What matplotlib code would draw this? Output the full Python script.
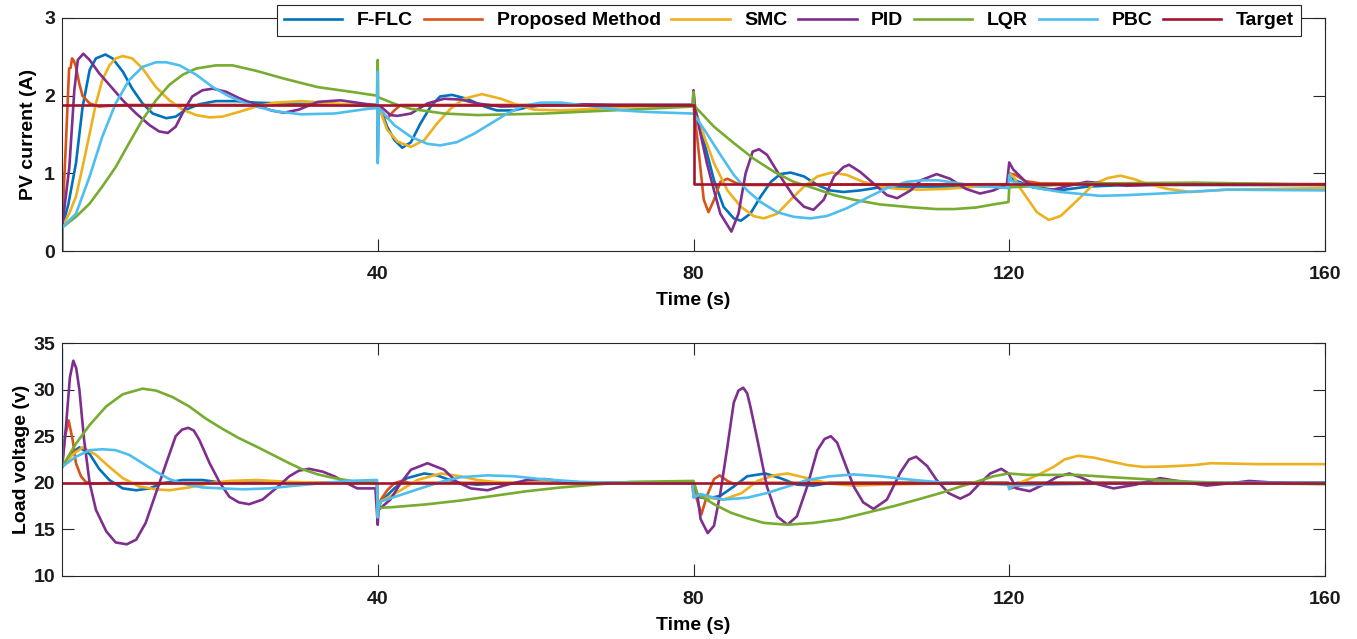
import numpy as np
import matplotlib
matplotlib.use("Agg")
import matplotlib.pyplot as plt

# ---------------- data: (time s, value) ----------------
names = ["F-FLC", "Proposed Method", "SMC", "PID", "LQR", "PBC", "Target"]
colors = ["#0072BD", "#D95319", "#EDB120", "#7E2F8E", "#77AC30", "#4DBEEE", "#A2142F"]

# PV current (A)
pv_fflc = [(0, 0.02), (0, 0.30), (0.8, 0.6), (1.77, 1.13), (2.6, 1.85), (3.5, 2.33), (4.3, 2.48),
           (5.5, 2.53), (6.4, 2.48), (7.7, 2.31), (8.9, 2.09), (10.2, 1.90), (11.5, 1.77), (13.2, 1.71),
           (14.4, 1.73), (15.7, 1.82), (17.4, 1.89), (19.5, 1.93), (22, 1.93), (24.6, 1.91), (28, 1.90),
           (32, 1.89), (36, 1.88), (39.9, 1.86), (40, 1.84), (40, 1.2), (40.1, 1.84), (40.4, 1.81),
           (41.2, 1.6), (42.1, 1.43), (43.1, 1.33), (44.2, 1.40), (45.4, 1.64), (46.7, 1.86), (47.9, 1.99),
           (49.4, 2.01), (51.3, 1.96), (53.5, 1.86), (55.1, 1.81), (57.2, 1.81), (59.4, 1.86), (61.5, 1.88),
           (79.9, 1.88), (80, 1.88), (80.5, 1.73), (81.7, 1.26), (82.6, 0.91), (83.8, 0.57), (85.1, 0.42),
           (86, 0.39), (87.2, 0.48), (88.5, 0.70), (89.8, 0.89), (91, 0.99), (92.3, 1.01), (94, 0.96),
           (95.7, 0.85), (97.3, 0.78), (99, 0.76), (101.1, 0.78), (103.6, 0.82), (108, 0.83), (112, 0.83),
           (119.9, 0.84), (120, 0.95), (121, 0.9), (123, 0.82), (125, 0.79), (127, 0.79), (130, 0.83),
           (135, 0.85), (160, 0.85)]
pv_prop = [(0, 0.02), (0, 0.30), (0.5, 1.4), (0.9, 2.35), (1.1, 2.36), (1.27, 2.48), (1.5, 2.45),
           (1.77, 2.37), (2.2, 2.15), (2.6, 2.0), (3.5, 1.9), (4.7, 1.86), (6, 1.87), (8, 1.88), (39.9, 1.88),
           (40, 1.85), (40.4, 1.81), (41.2, 1.71), (42.1, 1.81), (42.9, 1.88), (79.9, 1.88), (80, 1.88),
           (80.5, 1.43), (81.3, 0.66), (81.9, 0.50), (82.6, 0.66), (83.4, 0.89), (84.3, 0.93), (85.5, 0.87),
           (86.8, 0.85), (119.9, 0.86), (120, 1.0), (120.8, 0.98), (122, 0.9), (124, 0.87), (160, 0.86)]
pv_smc = [(0, 0.02), (0, 0.30), (0.9, 0.48), (1.77, 0.70), (2.6, 1.08), (3.5, 1.51), (4.3, 1.90),
          (5.1, 2.2), (6, 2.39), (6.8, 2.48), (7.7, 2.51), (8.9, 2.48), (10.2, 2.35), (11.9, 2.11),
          (13.6, 1.94), (15.3, 1.82), (17, 1.75), (18.7, 1.72), (20.3, 1.73), (22.4, 1.79), (24.6, 1.86),
          (27, 1.91), (30.3, 1.93), (34.5, 1.90), (39.9, 1.87), (40, 1.85), (40.4, 1.78), (41.2, 1.56),
          (42.5, 1.41), (44.2, 1.34), (45.9, 1.43), (47.5, 1.64), (49.2, 1.83), (50.9, 1.96), (53.2, 2.02),
          (55.6, 1.96), (57.7, 1.88), (59.8, 1.82), (63.2, 1.81), (67.4, 1.83), (72, 1.86), (79.9, 1.87),
          (80, 1.87), (80.9, 1.60), (82.6, 1.13), (84.3, 0.78), (86, 0.57), (87.6, 0.45), (88.9, 0.42),
          (90.6, 0.48), (92.3, 0.66), (94, 0.83), (95.7, 0.96), (97.5, 1.01), (99.4, 0.98), (101.5, 0.89),
          (103.6, 0.83), (105.8, 0.80), (108.8, 0.79), (112, 0.80), (116, 0.83), (119.9, 0.84), (120, 1.0),
          (120.6, 0.95), (121.3, 0.82), (122.2, 0.69), (123.5, 0.5), (125, 0.40), (126.5, 0.45),
          (128.6, 0.65), (130.7, 0.86), (132.5, 0.94), (134.1, 0.97), (136, 0.92), (137, 0.88), (140, 0.8),
          (143, 0.76), (147.6, 0.79), (160, 0.81)]
pv_pid = [(0, 0.02), (0, 0.30), (0.93, 1.08), (1.56, 2.07), (2, 2.46), (2.7, 2.54), (3.5, 2.46), (4.7, 2.29),
          (6, 2.14), (7.7, 1.94), (9.4, 1.77), (11.1, 1.62), (12.3, 1.54), (13.4, 1.52), (14.4, 1.6),
          (15.5, 1.82), (16.5, 1.99), (17.8, 2.07), (19.1, 2.09), (20.8, 2.05), (22.4, 1.97), (24.6, 1.88),
          (26.5, 1.81), (28.1, 1.78), (30, 1.82), (32.4, 1.92), (35.3, 1.94), (38.7, 1.89), (39.9, 1.88),
          (40, 1.87), (40.4, 1.86), (41.6, 1.75), (42.5, 1.74), (44.2, 1.77), (46.3, 1.90), (48.4, 1.96),
          (50.5, 1.95), (52.6, 1.90), (55.6, 1.86), (60, 1.87), (65.7, 1.89), (70, 1.88), (79.9, 1.88),
          (80, 2.07), (80.2, 1.85), (80.5, 1.69), (81.7, 1.13), (82.6, 0.78), (83.4, 0.48), (84.8, 0.25),
          (85.7, 0.48), (86.6, 1.0), (87.5, 1.28), (88.3, 1.31), (89.3, 1.24), (91, 0.96), (92.7, 0.70),
          (94, 0.57), (95.2, 0.53), (96.5, 0.66), (97.8, 0.96), (99, 1.08), (99.7, 1.11), (101.1, 1.02),
          (102.8, 0.87), (104.5, 0.72), (105.8, 0.68), (107.5, 0.78), (108.8, 0.91), (110.8, 0.99),
          (112.5, 0.93), (114.5, 0.8), (116.3, 0.74), (118, 0.78), (119.7, 0.86), (120, 1.14), (120.5, 1.05),
          (122.2, 0.88), (124, 0.81), (125.6, 0.79), (127.5, 0.84), (129.8, 0.89), (132, 0.87),
          (134.9, 0.84), (140, 0.86), (160, 0.86)]
pv_lqr = [(0, 0.02), (0, 0.30), (1.77, 0.44), (3.5, 0.61), (5.1, 0.83), (6.8, 1.08), (8.5, 1.39),
          (10.2, 1.69), (11.9, 1.94), (13.6, 2.14), (15.3, 2.27), (17, 2.35), (19.5, 2.39), (21.6, 2.39),
          (24.6, 2.32), (28.1, 2.22), (32.4, 2.11), (36.6, 2.05), (39.9, 2.0), (40, 2.46), (40.05, 1.98),
          (42, 1.90), (44.2, 1.83), (48.4, 1.77), (52.6, 1.75), (56.9, 1.76), (61.1, 1.77), (67.4, 1.80),
          (74, 1.83), (79.9, 1.86), (80, 2.05), (80.1, 1.87), (82.6, 1.60), (85.1, 1.39), (87.6, 1.19),
          (90.2, 1.02), (92.7, 0.89), (95.2, 0.81), (97.8, 0.72), (100.3, 0.66), (103.6, 0.60),
          (107.9, 0.56), (110.8, 0.54), (113, 0.54), (115.8, 0.56), (118, 0.6), (119.9, 0.63), (120, 0.82),
          (122.2, 0.83), (126, 0.85), (130.7, 0.87), (143.4, 0.88), (150, 0.87), (160, 0.85)]
pv_pbc = [(0, 0.04), (0, 0.30), (1.77, 0.48), (3.5, 0.96), (5.1, 1.47), (6.8, 1.90), (8.5, 2.2),
          (10.2, 2.37), (11.9, 2.43), (13.2, 2.43), (14.9, 2.39), (17, 2.27), (19.1, 2.11), (21.2, 1.99),
          (23.3, 1.90), (25, 1.85), (27, 1.80), (30.3, 1.76), (34.5, 1.77), (38.7, 1.83), (39.9, 1.84),
          (40, 2.31), (40, 1.13), (40.1, 1.84), (40.4, 1.81), (42.1, 1.62), (44.2, 1.47), (46.3, 1.38),
          (47.9, 1.36), (50, 1.40), (52.2, 1.51), (54.3, 1.64), (56.4, 1.77), (58.5, 1.87), (60.6, 1.91),
          (63.2, 1.91), (67.4, 1.86), (71, 1.81), (74.1, 1.79), (79.9, 1.77), (80, 1.77), (81.7, 1.51),
          (83.4, 1.24), (85.1, 0.98), (86.8, 0.78), (88.5, 0.63), (90.6, 0.50), (92.7, 0.44), (94.8, 0.42),
          (96.9, 0.45), (99.4, 0.55), (101.9, 0.68), (104.5, 0.81), (107, 0.89), (109, 0.91), (111, 0.91),
          (113, 0.88), (115.8, 0.84), (119.9, 0.81), (120, 0.98), (120.3, 0.9), (123, 0.82), (126.5, 0.76),
          (131.5, 0.71), (135, 0.72), (139.1, 0.74), (147.6, 0.79), (160, 0.78)]
pv_target = [(0, 1.88), (80, 1.88), (80, 0.86), (160, 0.86)]

# Load voltage (v)
lv_fflc = [(0, 21.7), (1.35, 23.3), (2.2, 23.8), (3.5, 23.1), (4.7, 21.5), (6, 20.3), (7.7, 19.4),
           (9.4, 19.2), (11.1, 19.4), (12.7, 19.96), (15.3, 20.3), (17.8, 20.3), (20.3, 20.0), (25, 20.0),
           (39.9, 20.0), (40, 17.0), (40.4, 18.0), (42.1, 19.4), (43.7, 20.5), (45.9, 21.0), (47.5, 20.8),
           (48.8, 20.4), (50.5, 19.96), (52.6, 19.8), (55, 19.9), (60, 20.0), (79.9, 20), (80, 18.6),
           (81.7, 18.3), (83.4, 18.6), (85.1, 19.6), (86.8, 20.7), (89.1, 21.0), (91, 20.5), (93.1, 19.8),
           (95.2, 19.7), (97.3, 20), (119.9, 20), (120, 19.6), (121, 20), (160, 20)]
lv_prop = [(0, 21.7), (0.4, 25), (0.84, 26.7), (1.35, 24.6), (1.77, 22.1), (2.4, 20.7), (3, 20.1),
           (3.9, 19.9), (5.6, 19.96), (39.9, 20.0), (40, 17.0), (40.4, 18.2), (41.2, 19.2), (42.1, 19.96),
           (43, 20.2), (44, 20.0), (79.9, 20), (80, 18.6), (80.3, 18.6), (81, 16.6), (81.7, 18.6),
           (82.6, 20.4), (83.3, 20.8), (84.3, 20.2), (85.1, 19.9), (86, 20), (119.9, 20), (120, 19.4),
           (120.8, 19.5), (122, 20), (160, 20)]
lv_smc = [(0, 21.7), (1.3, 23.0), (2.6, 23.8), (4.3, 23.0), (6, 21.7), (7.7, 20.5), (9.8, 19.6),
          (11.9, 19.3), (13.6, 19.2), (16.1, 19.5), (18.7, 19.96), (21.2, 20.2), (24.6, 20.3), (28.8, 20.1),
          (33, 20.0), (39.9, 20.0), (40, 17.3), (40.4, 18.0), (42.9, 19.2), (45, 20.3), (48, 21.0),
          (50.5, 20.7), (52.6, 20.3), (54.7, 20.1), (57, 20.0), (79.9, 20), (80, 18.6), (80.9, 18.6),
          (82.6, 18.3), (83.8, 18.2), (86.1, 18.9), (88.1, 20.2), (90.2, 20.8), (91.9, 21.0), (94.4, 20.5),
          (97.3, 19.9), (100.3, 19.7), (103.6, 19.8), (110, 19.9), (119.9, 19.9), (120, 19.6), (121, 19.9),
          (122.2, 20.3), (124, 21.0), (125.6, 21.7), (127, 22.5), (128.7, 22.9), (130.7, 22.7),
          (132.8, 22.3), (135, 21.9), (137, 21.7), (140, 21.75), (143.4, 21.9), (145.5, 22.1),
          (151.8, 22.0), (160, 22.0)]
lv_pid = [(0, 21.7), (0.5, 26), (1, 31.3), (1.43, 33.1), (1.8, 32.3), (2.2, 30.0), (2.8, 24.6), (3.5, 20.0),
          (4.3, 17.1), (5.6, 14.8), (6.8, 13.6), (8.2, 13.4), (9.4, 13.9), (10.6, 15.7), (11.9, 18.9),
          (13.2, 22.1), (14.4, 25.0), (15.2, 25.7), (16, 25.9), (16.7, 25.6), (17.4, 24.6), (18.7, 22.1),
          (20, 20.0), (21.2, 18.5), (22.4, 17.9), (23.7, 17.7), (25.4, 18.2), (27.1, 19.4), (28.8, 20.7),
          (30, 21.3), (31.3, 21.5), (33, 21.2), (34.5, 20.7), (36, 20.0), (37.4, 19.4), (39.7, 19.4),
          (40, 15.5), (40.1, 17.1), (41.6, 18.2), (42.9, 19.96), (44.2, 21.4), (46.3, 22.1), (48.4, 21.4),
          (50, 20.1), (51.8, 19.4), (53.9, 19.2), (56.4, 19.8), (58.9, 20.3), (61.1, 20.4), (64, 20.1),
          (67, 20.0), (79.9, 20.0), (80, 20.0), (80.5, 18.6), (80.9, 16.1), (81.8, 14.6), (82.6, 15.4),
          (83.4, 18.9), (84.3, 23.9), (85.1, 28.6), (85.7, 29.9), (86.3, 30.2), (86.8, 29.6), (87.2, 28.2),
          (88.1, 24.6), (89.3, 19.6), (90.6, 16.4), (91.9, 15.5), (93.1, 16.4), (94.4, 19.6), (95.7, 23.5),
          (96.6, 24.7), (97.4, 25.0), (98.2, 24.3), (99, 22.5), (100.3, 19.6), (101.5, 17.9), (102.8, 17.2),
          (104.5, 18.2), (106.2, 21.1), (107.3, 22.5), (108.2, 22.8), (109.6, 21.8), (110.8, 20.3),
          (112.3, 18.9), (113.8, 18.3), (115, 18.8), (116.3, 19.96), (117.6, 21.0), (119, 21.5),
          (119.9, 21.0), (120.9, 19.4), (122.6, 19.1), (124.7, 19.96), (126, 20.6), (127.6, 21.0),
          (129, 20.6), (130.7, 19.96), (133.2, 19.4), (136, 19.8), (139.1, 20.5), (142, 20.1), (145, 19.7),
          (148, 19.95), (150.4, 20.2), (153, 20.05), (156, 20.0), (160, 20.0)]
lv_lqr = [(0, 21.7), (1.77, 24.2), (3.5, 26.2), (5.6, 28.2), (7.7, 29.5), (10.2, 30.1), (11.9, 29.9),
          (14, 29.2), (16.1, 28.2), (18.2, 26.9), (20.3, 25.8), (22.4, 24.8), (24.6, 23.9), (26.7, 23.0),
          (28.8, 22.1), (30.3, 21.5), (32.4, 20.9), (34.5, 20.5), (37, 20.15), (39.9, 19.96), (40, 16.3),
          (40.05, 17.3), (42.1, 17.4), (46.3, 17.7), (50.5, 18.1), (54.7, 18.6), (58.9, 19.1), (63.2, 19.5),
          (67.4, 19.8), (72, 20.1), (79.9, 20.2), (80, 20.2), (80.5, 18.8), (82.6, 17.7), (84.7, 16.8),
          (86.8, 16.2), (88.9, 15.7), (91.9, 15.5), (95.2, 15.7), (98.6, 16.1), (102, 16.8), (105.4, 17.5),
          (108.8, 18.3), (111.7, 19.0), (113.8, 19.6), (116, 20.15), (118, 20.7), (119.9, 21.0),
          (122.2, 20.85), (128.5, 20.85), (133, 20.6), (137, 20.4), (143.4, 20.1), (150, 19.95), (160, 19.85)]
lv_pbc = [(0, 34.3), (0, 21.7), (1.77, 22.8), (3.5, 23.5), (5.1, 23.6), (6.8, 23.5), (8.5, 23.0),
          (10.2, 22.1), (11.9, 21.2), (13.6, 20.4), (15.3, 19.9), (17.8, 19.5), (20.3, 19.4), (22.9, 19.3),
          (26.2, 19.4), (29.6, 19.7), (33, 19.96), (36, 20.2), (39.9, 20.3), (40, 16.3), (40.1, 17.5),
          (40.4, 18.0), (42.9, 18.7), (45.4, 19.4), (48, 20.1), (50.5, 20.6), (53.9, 20.8), (57.3, 20.7),
          (60.6, 20.4), (65.7, 20.1), (70, 20.0), (79.9, 19.9), (80, 18.4), (80.9, 18.8), (82.6, 18.4),
          (83.8, 18.2), (86.8, 18.4), (89.3, 18.9), (91.9, 19.6), (94.4, 20.3), (97.3, 20.7), (100.3, 20.9),
          (103.6, 20.7), (107.9, 20.3), (112, 20.0), (119.9, 19.8), (120, 19.3), (120.5, 19.7),
          (124.2, 19.8), (134.9, 19.96), (160, 20)]
lv_target = [(0, 20), (160, 20)]

pv_series = [pv_fflc, pv_prop, pv_smc, pv_pid, pv_lqr, pv_pbc, pv_target]
lv_series = [lv_fflc, lv_prop, lv_smc, lv_pid, lv_lqr, lv_pbc, lv_target]

# ---------------- plotting ----------------
plt.rcParams["font.family"] = ["Liberation Sans", "DejaVu Sans"]
plt.rcParams["font.weight"] = "bold"
plt.rcParams["axes.labelweight"] = "bold"

W, H = 1357, 639
fig = plt.figure(figsize=(W / 100, H / 100), dpi=100)
ax1 = fig.add_axes([62 / W, 1 - 251 / H, 1263 / W, 233 / H])
ax2 = fig.add_axes([62 / W, 1 - 576 / H, 1263 / W, 233 / H])

for ax, series in [(ax1, pv_series), (ax2, lv_series)]:
    for data, c, name in zip(series, colors, names):
        arr = np.array(data)
        ax.plot(arr[:, 0], arr[:, 1], c=c, lw=1.9, label=name)
    ax.set_xlim(0, 160)
    ax.set_xticks([40, 80, 120, 160])
    ax.set_xlabel("Time (s)", fontsize=14, labelpad=6)
    ax.tick_params(direction="in", length=8.5, width=0.8, top=True, right=True,
                   labelsize=14, color="0.15", labelcolor="0.1")
    ax.tick_params(axis="x", pad=11)
    ax.tick_params(axis="y", pad=5)
    for s in ax.spines.values():
        s.set_color("0.15")
        s.set_linewidth(0.8)

ax1.set_ylim(0, 3)
ax1.set_yticks([0, 1, 2, 3])
ax1.set_ylabel("PV current (A)", fontsize=14, labelpad=5)
ax2.set_ylim(10, 35)
ax2.set_yticks([10, 15, 20, 25, 30, 35])
ax2.set_ylabel("Load voltage (v)", fontsize=14, labelpad=2.5)

leg = ax1.legend(ncol=7, loc="upper right", bbox_to_anchor=(1301 / W, 1 - 5 / H),
                 bbox_transform=fig.transFigure, fontsize=14, handlelength=3.0,
                 handletextpad=0.75, columnspacing=0.55, borderpad=0.35, borderaxespad=0,
                 fancybox=False, framealpha=1, edgecolor="0.15")
leg.get_frame().set_linewidth(0.8)

fig.savefig("out.png", dpi=100)
